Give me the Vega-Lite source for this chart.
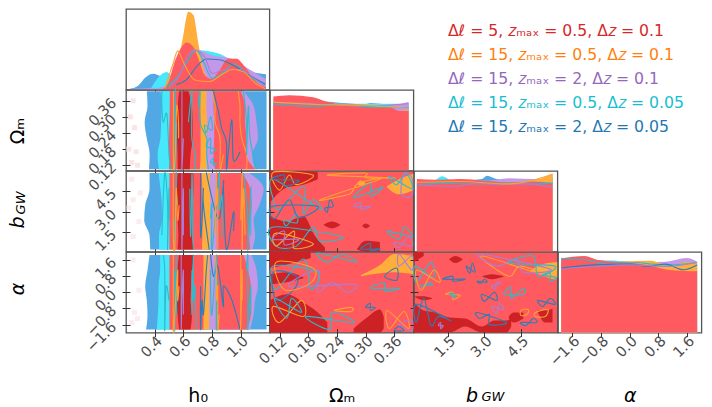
{"$schema":"https://vega.github.io/schema/vega-lite/v6.json","background":"white","padding":{"left":7,"top":8,"right":5,"bottom":0},"columns":4,"spacing":0,"bounds":"flush","align":"all","resolve":{"scale":{"color":"independent"}},
"config":{"view":{"stroke":"#555","strokeWidth":1.3},"axis":{"grid":false,"domain":false,"tickColor":"#333","tickSize":8,"offset":-4,"labelFont":"DejaVu Sans","labelFontSize":14.5,"labelColor":"#4d4d4d","labelAngle":-45,"labelOverlap":false,"labelFlush":false,"labelBound":false,"labelAlign":"right","titleFont":"DejaVu Sans","titleFontSize":19,"titleFontWeight":"normal","titleColor":"black","titleBaseline":"middle","zindex":1},"axisY":{"labelBaseline":"middle","labelPadding":8,"titleX":-112.5,"titleY":40.5},"axisX":{"labelBaseline":"top","labelPadding":-3,"titleY":67},"text":{"font":"DejaVu Sans"}},
"datasets":{
"bands":[
{"p":"o","s":"B","l":"B","y":0.395,"x":0.345,"x2":1.18},{"p":"o","s":"B","l":"B","y":0.34,"x":0.35,"x2":1.18},{"p":"o","s":"B","l":"B","y":0.28,"x":0.33,"x2":1.18},{"p":"o","s":"B","l":"B","y":0.22,"x":0.345,"x2":1.18},{"p":"o","s":"B","l":"B","y":0.16,"x":0.365,"x2":1.18},{"p":"o","s":"B","l":"B","y":0.105,"x":0.36,"x2":1.18},
{"p":"o","s":"C","l":"C","y":0.395,"x":0.44,"x2":0.9},{"p":"o","s":"C","l":"C","y":0.34,"x":0.45,"x2":0.9},{"p":"o","s":"C","l":"C","y":0.28,"x":0.445,"x2":0.9},{"p":"o","s":"C","l":"C","y":0.22,"x":0.44,"x2":0.9},{"p":"o","s":"C","l":"C","y":0.16,"x":0.42,"x2":0.9},{"p":"o","s":"C","l":"C","y":0.105,"x":0.43,"x2":0.9},
{"p":"o","s":"P","l":"P","y":0.395,"x":0.7,"x2":1.02},{"p":"o","s":"P","l":"P","y":0.34,"x":0.7,"x2":1.09},{"p":"o","s":"P","l":"P","y":0.28,"x":0.7,"x2":1.11},{"p":"o","s":"P","l":"P","y":0.22,"x":0.7,"x2":1.12},{"p":"o","s":"P","l":"P","y":0.16,"x":0.7,"x2":1.08},{"p":"o","s":"P","l":"P","y":0.105,"x":0.7,"x2":1.1},
{"p":"o","s":"O","l":"O","y":0.395,"x":0.51,"x2":0.763},{"p":"o","s":"O","l":"O","y":0.34,"x":0.51,"x2":0.76},{"p":"o","s":"O","l":"O","y":0.28,"x":0.51,"x2":0.765},{"p":"o","s":"O","l":"O","y":0.22,"x":0.51,"x2":0.765},{"p":"o","s":"O","l":"O","y":0.16,"x":0.51,"x2":0.76},{"p":"o","s":"O","l":"O","y":0.105,"x":0.51,"x2":0.763},
{"p":"o","s":"R","l":"RL","y":0.395,"x":0.505,"x2":0.717},{"p":"o","s":"R","l":"RL","y":0.34,"x":0.505,"x2":0.717},{"p":"o","s":"R","l":"RL","y":0.28,"x":0.503,"x2":0.72},{"p":"o","s":"R","l":"RL","y":0.22,"x":0.5,"x2":0.72},{"p":"o","s":"R","l":"RL","y":0.16,"x":0.5,"x2":0.72},{"p":"o","s":"R","l":"RL","y":0.105,"x":0.5,"x2":0.715},
{"p":"o","s":"R","l":"RR","y":0.395,"x":0.81,"x2":1.0},{"p":"o","s":"R","l":"RR","y":0.34,"x":0.81,"x2":1.03},{"p":"o","s":"R","l":"RR","y":0.28,"x":0.815,"x2":1.03},{"p":"o","s":"R","l":"RR","y":0.22,"x":0.815,"x2":1.04},{"p":"o","s":"R","l":"RR","y":0.16,"x":0.81,"x2":1.04},{"p":"o","s":"R","l":"RR","y":0.105,"x":0.82,"x2":1.1},
{"p":"o","s":"D","l":"D","y":0.395,"x":0.57,"x2":0.635},{"p":"o","s":"D","l":"D","y":0.34,"x":0.56,"x2":0.66},{"p":"o","s":"D","l":"D","y":0.28,"x":0.55,"x2":0.665},{"p":"o","s":"D","l":"D","y":0.22,"x":0.555,"x2":0.665},{"p":"o","s":"D","l":"D","y":0.16,"x":0.56,"x2":0.65},{"p":"o","s":"D","l":"D","y":0.105,"x":0.56,"x2":0.645},
{"p":"b","s":"B","l":"B","y":5.85,"x":0.364,"x2":1.18},{"p":"b","s":"B","l":"B","y":4.7,"x":0.364,"x2":1.18},{"p":"b","s":"B","l":"B","y":3.5,"x":0.334,"x2":1.18},{"p":"b","s":"B","l":"B","y":2.4,"x":0.327,"x2":1.18},{"p":"b","s":"B","l":"B","y":1.3,"x":0.364,"x2":1.18},{"p":"b","s":"B","l":"B","y":0.25,"x":0.369,"x2":1.18},
{"p":"b","s":"C","l":"C","y":5.85,"x":0.427,"x2":0.9},{"p":"b","s":"C","l":"C","y":4.7,"x":0.44,"x2":0.9},{"p":"b","s":"C","l":"C","y":3.5,"x":0.45,"x2":0.9},{"p":"b","s":"C","l":"C","y":2.4,"x":0.45,"x2":0.9},{"p":"b","s":"C","l":"C","y":1.3,"x":0.43,"x2":0.9},{"p":"b","s":"C","l":"C","y":0.25,"x":0.43,"x2":0.9},
{"p":"b","s":"P","l":"P","y":5.85,"x":0.7,"x2":1.06},{"p":"b","s":"P","l":"P","y":4.7,"x":0.7,"x2":1.16},{"p":"b","s":"P","l":"P","y":3.5,"x":0.7,"x2":1.13},{"p":"b","s":"P","l":"P","y":2.4,"x":0.7,"x2":1.09},{"p":"b","s":"P","l":"P","y":1.3,"x":0.7,"x2":1.1},{"p":"b","s":"P","l":"P","y":0.25,"x":0.7,"x2":1.08},
{"p":"b","s":"O","l":"O","y":5.85,"x":0.51,"x2":0.786},{"p":"b","s":"O","l":"O","y":3.5,"x":0.51,"x2":0.786},{"p":"b","s":"O","l":"O","y":0.25,"x":0.51,"x2":0.786},
{"p":"b","s":"R","l":"RL","y":5.85,"x":0.503,"x2":0.728},{"p":"b","s":"R","l":"RL","y":3.5,"x":0.503,"x2":0.735},{"p":"b","s":"R","l":"RL","y":0.25,"x":0.503,"x2":0.73},
{"p":"b","s":"R","l":"RR","y":5.85,"x":0.833,"x2":1.007},{"p":"b","s":"R","l":"RR","y":4.7,"x":0.833,"x2":1.065},{"p":"b","s":"R","l":"RR","y":3.5,"x":0.833,"x2":1.076},{"p":"b","s":"R","l":"RR","y":2.4,"x":0.833,"x2":1.065},{"p":"b","s":"R","l":"RR","y":1.3,"x":0.833,"x2":1.06},{"p":"b","s":"R","l":"RR","y":0.25,"x":0.833,"x2":1.065},
{"p":"b","s":"D","l":"D","y":5.85,"x":0.56,"x2":0.67},{"p":"b","s":"D","l":"D","y":4.7,"x":0.555,"x2":0.67},{"p":"b","s":"D","l":"D","y":3.5,"x":0.555,"x2":0.665},{"p":"b","s":"D","l":"D","y":2.4,"x":0.56,"x2":0.66},{"p":"b","s":"D","l":"D","y":1.3,"x":0.565,"x2":0.66},{"p":"b","s":"D","l":"D","y":0.25,"x":0.56,"x2":0.67},
{"p":"a","s":"B","l":"B","y":1.85,"x":0.364,"x2":1.18},{"p":"a","s":"B","l":"B","y":1.1,"x":0.35,"x2":1.18},{"p":"a","s":"B","l":"B","y":0.3,"x":0.334,"x2":1.18},{"p":"a","s":"B","l":"B","y":-0.4,"x":0.345,"x2":1.18},{"p":"a","s":"B","l":"B","y":-1.1,"x":0.35,"x2":1.18},{"p":"a","s":"B","l":"B","y":-1.85,"x":0.34,"x2":1.18},
{"p":"a","s":"C","l":"C","y":1.85,"x":0.438,"x2":0.9},{"p":"a","s":"C","l":"C","y":1.1,"x":0.438,"x2":0.9},{"p":"a","s":"C","l":"C","y":0.3,"x":0.427,"x2":0.9},{"p":"a","s":"C","l":"C","y":-0.4,"x":0.427,"x2":0.9},{"p":"a","s":"C","l":"C","y":-1.1,"x":0.422,"x2":0.9},{"p":"a","s":"C","l":"C","y":-1.85,"x":0.415,"x2":0.9},
{"p":"a","s":"P","l":"P","y":1.85,"x":0.7,"x2":1.076},{"p":"a","s":"P","l":"P","y":1.1,"x":0.7,"x2":1.11},{"p":"a","s":"P","l":"P","y":0.3,"x":0.7,"x2":1.12},{"p":"a","s":"P","l":"P","y":-0.4,"x":0.7,"x2":1.1},{"p":"a","s":"P","l":"P","y":-1.1,"x":0.7,"x2":1.09},{"p":"a","s":"P","l":"P","y":-1.85,"x":0.7,"x2":1.065},
{"p":"a","s":"O","l":"O","y":1.85,"x":0.51,"x2":0.78},{"p":"a","s":"O","l":"O","y":0,"x":0.51,"x2":0.78},{"p":"a","s":"O","l":"O","y":-1.85,"x":0.51,"x2":0.78},
{"p":"a","s":"R","l":"RL","y":1.85,"x":0.503,"x2":0.74},{"p":"a","s":"R","l":"RL","y":0,"x":0.503,"x2":0.74},{"p":"a","s":"R","l":"RL","y":-1.85,"x":0.503,"x2":0.74},
{"p":"a","s":"R","l":"RR","y":1.85,"x":0.828,"x2":1.02},{"p":"a","s":"R","l":"RR","y":1.1,"x":0.828,"x2":1.05},{"p":"a","s":"R","l":"RR","y":0.3,"x":0.828,"x2":1.07},{"p":"a","s":"R","l":"RR","y":-0.4,"x":0.828,"x2":1.07},{"p":"a","s":"R","l":"RR","y":-1.1,"x":0.828,"x2":1.07},{"p":"a","s":"R","l":"RR","y":-1.85,"x":0.828,"x2":1.04},
{"p":"a","s":"D","l":"D","y":1.85,"x":0.57,"x2":0.675},{"p":"a","s":"D","l":"D","y":1.1,"x":0.56,"x2":0.66},{"p":"a","s":"D","l":"D","y":0.3,"x":0.56,"x2":0.655},{"p":"a","s":"D","l":"D","y":-0.4,"x":0.555,"x2":0.65},{"p":"a","s":"D","l":"D","y":-1.1,"x":0.56,"x2":0.66},{"p":"a","s":"D","l":"D","y":-1.85,"x":0.57,"x2":0.65}
],
"vlines":[
{"p":"o","s":"c","l":"1","x":0.45,"y":0.395},{"p":"o","s":"c","l":"1","x":0.45,"y":0.34},{"p":"o","s":"c","l":"1","x":0.485,"y":0.31},{"p":"o","s":"c","l":"1","x":0.46,"y":0.28},{"p":"o","s":"c","l":"1","x":0.5,"y":0.16},{"p":"o","s":"c","l":"1","x":0.51,"y":0.105},
{"p":"o","s":"c","l":"2","x":0.543,"y":0.395},{"p":"o","s":"c","l":"2","x":0.543,"y":0.34},{"p":"o","s":"c","l":"2","x":0.554,"y":0.28},{"p":"o","s":"c","l":"2","x":0.531,"y":0.22},{"p":"o","s":"c","l":"2","x":0.531,"y":0.16},{"p":"o","s":"c","l":"2","x":0.543,"y":0.105},
{"p":"o","s":"p","l":"3","x":0.59,"y":0.395},{"p":"o","s":"p","l":"3","x":0.59,"y":0.34},{"p":"o","s":"p","l":"3","x":0.59,"y":0.28},{"p":"o","s":"p","l":"3","x":0.6,"y":0.22},{"p":"o","s":"p","l":"3","x":0.59,"y":0.16},{"p":"o","s":"p","l":"3","x":0.59,"y":0.105},
{"p":"o","s":"c","l":"4","x":0.659,"y":0.395},{"p":"o","s":"c","l":"4","x":0.659,"y":0.34},{"p":"o","s":"c","l":"4","x":0.635,"y":0.28},{"p":"o","s":"c","l":"4","x":0.659,"y":0.22},{"p":"o","s":"c","l":"4","x":0.682,"y":0.16},{"p":"o","s":"c","l":"4","x":0.682,"y":0.105},
{"p":"o","s":"c","l":"5","x":0.717,"y":0.395},{"p":"o","s":"c","l":"5","x":0.705,"y":0.34},{"p":"o","s":"c","l":"5","x":0.717,"y":0.28},{"p":"o","s":"c","l":"5","x":0.763,"y":0.22},{"p":"o","s":"c","l":"5","x":0.763,"y":0.16},{"p":"o","s":"c","l":"5","x":0.775,"y":0.105},
{"p":"o","s":"b","l":"6","x":0.81,"y":0.395},{"p":"o","s":"b","l":"6","x":0.844,"y":0.32},{"p":"o","s":"b","l":"6","x":0.937,"y":0.289},{"p":"o","s":"b","l":"6","x":0.867,"y":0.257},{"p":"o","s":"b","l":"6","x":0.9,"y":0.207},{"p":"o","s":"b","l":"6","x":0.995,"y":0.17},{"p":"o","s":"b","l":"6","x":0.949,"y":0.139},{"p":"o","s":"b","l":"6","x":0.902,"y":0.107},
{"p":"o","s":"o","l":"7","x":0.531,"y":0.395},{"p":"o","s":"o","l":"7","x":0.554,"y":0.34},{"p":"o","s":"o","l":"7","x":0.566,"y":0.28},{"p":"o","s":"o","l":"7","x":0.566,"y":0.22},{"p":"o","s":"o","l":"7","x":0.543,"y":0.16},{"p":"o","s":"o","l":"7","x":0.531,"y":0.105},
{"p":"o","s":"o","l":"8","x":0.798,"y":0.395},{"p":"o","s":"o","l":"8","x":0.821,"y":0.34},{"p":"o","s":"o","l":"8","x":0.821,"y":0.28},{"p":"o","s":"o","l":"8","x":0.856,"y":0.22},{"p":"o","s":"o","l":"8","x":0.879,"y":0.16},{"p":"o","s":"o","l":"8","x":0.856,"y":0.105},
{"p":"o","s":"o","l":"9","x":0.983,"y":0.395},{"p":"o","s":"o","l":"9","x":0.995,"y":0.34},{"p":"o","s":"o","l":"9","x":0.995,"y":0.28},{"p":"o","s":"o","l":"9","x":1.007,"y":0.22},{"p":"o","s":"o","l":"9","x":1.041,"y":0.16},{"p":"o","s":"o","l":"9","x":1.041,"y":0.105},
{"p":"o","s":"c","l":"10","x":1.018,"y":0.395},{"p":"o","s":"c","l":"10","x":1.053,"y":0.34},{"p":"o","s":"c","l":"10","x":1.041,"y":0.28},{"p":"o","s":"c","l":"10","x":1.065,"y":0.22},{"p":"o","s":"c","l":"10","x":1.041,"y":0.16},{"p":"o","s":"c","l":"10","x":1.111,"y":0.105},
{"p":"b","s":"c","l":"1","x":0.47,"y":5.85},{"p":"b","s":"c","l":"1","x":0.5,"y":4.7},{"p":"b","s":"c","l":"1","x":0.49,"y":3.5},{"p":"b","s":"c","l":"1","x":0.5,"y":2.4},{"p":"b","s":"c","l":"1","x":0.45,"y":1.3},{"p":"b","s":"c","l":"1","x":0.49,"y":0.25},
{"p":"b","s":"c","l":"2","x":0.55,"y":5.85},{"p":"b","s":"c","l":"2","x":0.55,"y":4.7},{"p":"b","s":"c","l":"2","x":0.56,"y":3.5},{"p":"b","s":"c","l":"2","x":0.535,"y":2.4},{"p":"b","s":"c","l":"2","x":0.54,"y":1.3},{"p":"b","s":"c","l":"2","x":0.535,"y":0.25},
{"p":"b","s":"p","l":"3","x":0.59,"y":5.85},{"p":"b","s":"p","l":"3","x":0.6,"y":4.7},{"p":"b","s":"p","l":"3","x":0.59,"y":3.5},{"p":"b","s":"p","l":"3","x":0.59,"y":2.4},{"p":"b","s":"p","l":"3","x":0.6,"y":1.3},{"p":"b","s":"p","l":"3","x":0.59,"y":0.25},
{"p":"b","s":"c","l":"4","x":0.66,"y":5.85},{"p":"b","s":"c","l":"4","x":0.645,"y":4.7},{"p":"b","s":"c","l":"4","x":0.665,"y":3.5},{"p":"b","s":"c","l":"4","x":0.655,"y":2.4},{"p":"b","s":"c","l":"4","x":0.65,"y":1.3},{"p":"b","s":"c","l":"4","x":0.67,"y":0.25},
{"p":"b","s":"b","l":"5","x":0.72,"y":5.85},{"p":"b","s":"b","l":"5","x":0.74,"y":4.7},{"p":"b","s":"b","l":"5","x":0.74,"y":3.5},{"p":"b","s":"b","l":"5","x":0.73,"y":2.4},{"p":"b","s":"b","l":"5","x":0.72,"y":1.3},{"p":"b","s":"b","l":"5","x":0.78,"y":0.25},
{"p":"b","s":"b","l":"6","x":0.76,"y":5.9},{"p":"b","s":"b","l":"6","x":0.88,"y":5.1},{"p":"b","s":"b","l":"6","x":0.88,"y":4.6},{"p":"b","s":"b","l":"6","x":0.95,"y":3.0},{"p":"b","s":"b","l":"6","x":0.844,"y":2.5},{"p":"b","s":"b","l":"6","x":0.95,"y":1.6},{"p":"b","s":"b","l":"6","x":0.9,"y":0.25},
{"p":"b","s":"c","l":"11","x":0.85,"y":5.85},{"p":"b","s":"c","l":"11","x":0.87,"y":4.2},{"p":"b","s":"c","l":"11","x":0.8,"y":3.6},{"p":"b","s":"c","l":"11","x":0.85,"y":3.2},{"p":"b","s":"c","l":"11","x":0.79,"y":2.5},{"p":"b","s":"c","l":"11","x":0.87,"y":1.1},{"p":"b","s":"c","l":"11","x":0.8,"y":0.25},
{"p":"b","s":"o","l":"7","x":0.53,"y":5.85},{"p":"b","s":"o","l":"7","x":0.55,"y":4.7},{"p":"b","s":"o","l":"7","x":0.57,"y":3.5},{"p":"b","s":"o","l":"7","x":0.56,"y":2.4},{"p":"b","s":"o","l":"7","x":0.53,"y":1.3},{"p":"b","s":"o","l":"7","x":0.54,"y":0.25},
{"p":"b","s":"o","l":"8","x":0.83,"y":5.85},{"p":"b","s":"o","l":"8","x":0.84,"y":4.7},{"p":"b","s":"o","l":"8","x":0.83,"y":3.5},{"p":"b","s":"o","l":"8","x":0.84,"y":2.4},{"p":"b","s":"o","l":"8","x":0.82,"y":1.3},{"p":"b","s":"o","l":"8","x":0.84,"y":0.25},
{"p":"b","s":"o","l":"9","x":1.01,"y":5.85},{"p":"b","s":"o","l":"9","x":1.02,"y":4.7},{"p":"b","s":"o","l":"9","x":1.01,"y":3.5},{"p":"b","s":"o","l":"9","x":1.0,"y":2.4},{"p":"b","s":"o","l":"9","x":1.03,"y":1.3},{"p":"b","s":"o","l":"9","x":1.01,"y":0.25},
{"p":"b","s":"c","l":"10","x":1.02,"y":5.85},{"p":"b","s":"c","l":"10","x":1.07,"y":4.7},{"p":"b","s":"c","l":"10","x":1.07,"y":3.5},{"p":"b","s":"c","l":"10","x":1.05,"y":2.4},{"p":"b","s":"c","l":"10","x":1.07,"y":1.3},{"p":"b","s":"c","l":"10","x":1.05,"y":0.25},
{"p":"a","s":"c","l":"1","x":0.46,"y":1.85},{"p":"a","s":"c","l":"1","x":0.47,"y":1.1},{"p":"a","s":"c","l":"1","x":0.48,"y":0.3},{"p":"a","s":"c","l":"1","x":0.5,"y":-0.4},{"p":"a","s":"c","l":"1","x":0.47,"y":-1.1},{"p":"a","s":"c","l":"1","x":0.47,"y":-1.85},
{"p":"a","s":"c","l":"2","x":0.55,"y":1.85},{"p":"a","s":"c","l":"2","x":0.54,"y":1.1},{"p":"a","s":"c","l":"2","x":0.555,"y":0.3},{"p":"a","s":"c","l":"2","x":0.54,"y":-0.4},{"p":"a","s":"c","l":"2","x":0.55,"y":-1.1},{"p":"a","s":"c","l":"2","x":0.54,"y":-1.85},
{"p":"a","s":"p","l":"3","x":0.585,"y":1.85},{"p":"a","s":"p","l":"3","x":0.6,"y":1.1},{"p":"a","s":"p","l":"3","x":0.585,"y":0.3},{"p":"a","s":"p","l":"3","x":0.59,"y":-0.4},{"p":"a","s":"p","l":"3","x":0.6,"y":-1.1},{"p":"a","s":"p","l":"3","x":0.585,"y":-1.85},
{"p":"a","s":"c","l":"4","x":0.67,"y":1.85},{"p":"a","s":"c","l":"4","x":0.66,"y":1.1},{"p":"a","s":"c","l":"4","x":0.68,"y":0.3},{"p":"a","s":"c","l":"4","x":0.67,"y":-0.4},{"p":"a","s":"c","l":"4","x":0.66,"y":-1.1},{"p":"a","s":"c","l":"4","x":0.69,"y":-1.85},
{"p":"a","s":"b","l":"5","x":0.77,"y":1.85},{"p":"a","s":"b","l":"5","x":0.76,"y":1.1},{"p":"a","s":"b","l":"5","x":0.72,"y":0.3},{"p":"a","s":"b","l":"5","x":0.73,"y":-0.4},{"p":"a","s":"b","l":"5","x":0.74,"y":-1.1},{"p":"a","s":"b","l":"5","x":0.72,"y":-1.85},
{"p":"a","s":"b","l":"6","x":0.79,"y":1.9},{"p":"a","s":"b","l":"6","x":0.84,"y":1.3},{"p":"a","s":"b","l":"6","x":0.81,"y":0.8},{"p":"a","s":"b","l":"6","x":0.88,"y":0.3},{"p":"a","s":"b","l":"6","x":0.937,"y":-0.36},{"p":"a","s":"b","l":"6","x":0.879,"y":-0.7},{"p":"a","s":"b","l":"6","x":0.995,"y":-1.85},
{"p":"a","s":"c","l":"11","x":0.83,"y":1.85},{"p":"a","s":"c","l":"11","x":0.79,"y":1.1},{"p":"a","s":"c","l":"11","x":0.84,"y":0.6},{"p":"a","s":"c","l":"11","x":0.79,"y":0.1},{"p":"a","s":"c","l":"11","x":0.83,"y":-0.5},{"p":"a","s":"c","l":"11","x":0.8,"y":-1.1},{"p":"a","s":"c","l":"11","x":0.83,"y":-1.85},
{"p":"a","s":"o","l":"7","x":0.53,"y":1.85},{"p":"a","s":"o","l":"7","x":0.56,"y":1.1},{"p":"a","s":"o","l":"7","x":0.57,"y":0.3},{"p":"a","s":"o","l":"7","x":0.56,"y":-0.4},{"p":"a","s":"o","l":"7","x":0.54,"y":-1.1},{"p":"a","s":"o","l":"7","x":0.53,"y":-1.85},
{"p":"a","s":"o","l":"8","x":0.82,"y":1.85},{"p":"a","s":"o","l":"8","x":0.83,"y":1.1},{"p":"a","s":"o","l":"8","x":0.84,"y":0.3},{"p":"a","s":"o","l":"8","x":0.83,"y":-0.4},{"p":"a","s":"o","l":"8","x":0.85,"y":-1.1},{"p":"a","s":"o","l":"8","x":0.84,"y":-1.85},
{"p":"a","s":"o","l":"9","x":1.0,"y":1.85},{"p":"a","s":"o","l":"9","x":1.01,"y":1.1},{"p":"a","s":"o","l":"9","x":1.0,"y":0.3},{"p":"a","s":"o","l":"9","x":1.01,"y":-0.4},{"p":"a","s":"o","l":"9","x":1.0,"y":-1.1},{"p":"a","s":"o","l":"9","x":1.0,"y":-1.85},
{"p":"a","s":"c","l":"10","x":1.05,"y":1.85},{"p":"a","s":"c","l":"10","x":1.04,"y":1.1},{"p":"a","s":"c","l":"10","x":1.07,"y":0.3},{"p":"a","s":"c","l":"10","x":1.05,"y":-0.4},{"p":"a","s":"c","l":"10","x":1.07,"y":-1.1},{"p":"a","s":"c","l":"10","x":1.05,"y":-1.85}
],
"pink":[
{"p":"o","x":0.25,"y":0.36},{"p":"o","x":0.23,"y":0.3},{"p":"o","x":0.26,"y":0.26},{"p":"o","x":0.22,"y":0.18},{"p":"o","x":0.27,"y":0.17},{"p":"o","x":0.24,"y":0.13},{"p":"o","x":0.28,"y":0.12},
{"p":"b","x":0.24,"y":5.4},{"p":"b","x":0.3,"y":4.4},{"p":"b","x":0.25,"y":3.9},{"p":"b","x":0.29,"y":2.3},{"p":"b","x":0.25,"y":1.2},{"p":"b","x":0.22,"y":3.3},
{"p":"a","x":0.25,"y":1.6},{"p":"a","x":0.29,"y":0.1},{"p":"a","x":0.26,"y":-1},{"p":"a","x":0.24,"y":-1.5},{"p":"a","x":0.28,"y":-1.3}
],
"dens":[
{"p":"h","s":"B","x":0.229,"y":0.01},{"p":"h","s":"B","x":0.287,"y":0.05},{"p":"h","s":"B","x":0.333,"y":0.146},{"p":"h","s":"B","x":0.391,"y":0.196},{"p":"h","s":"B","x":0.449,"y":0.16},{"p":"h","s":"B","x":0.5,"y":0.14},{"p":"h","s":"B","x":0.6,"y":0.2},{"p":"h","s":"B","x":0.8,"y":0.25},{"p":"h","s":"B","x":1.0,"y":0.24},{"p":"h","s":"B","x":1.05,"y":0.225},{"p":"h","s":"B","x":1.176,"y":0.19},
{"p":"h","s":"C","x":0.37,"y":0},{"p":"h","s":"C","x":0.4,"y":0.09},{"p":"h","s":"C","x":0.449,"y":0.19},{"p":"h","s":"C","x":0.484,"y":0.217},{"p":"h","s":"C","x":0.52,"y":0.175},{"p":"h","s":"C","x":0.565,"y":0.32},{"p":"h","s":"C","x":0.681,"y":0.49},{"p":"h","s":"C","x":0.85,"y":0.446},{"p":"h","s":"C","x":0.937,"y":0.36},{"p":"h","s":"C","x":1.053,"y":0.217},{"p":"h","s":"C","x":1.176,"y":0.07},
{"p":"h","s":"P","x":0.229,"y":0.01},{"p":"h","s":"P","x":0.4,"y":0.02},{"p":"h","s":"P","x":0.5,"y":0.06},{"p":"h","s":"P","x":0.565,"y":0.24},{"p":"h","s":"P","x":0.681,"y":0.496},{"p":"h","s":"P","x":0.797,"y":0.425},{"p":"h","s":"P","x":0.937,"y":0.383},{"p":"h","s":"P","x":1.053,"y":0.258},{"p":"h","s":"P","x":1.176,"y":0.13},
{"p":"h","s":"O","x":0.47,"y":0},{"p":"h","s":"O","x":0.542,"y":0.32},{"p":"h","s":"O","x":0.589,"y":0.57},{"p":"h","s":"O","x":0.635,"y":0.967},{"p":"h","s":"O","x":0.67,"y":0.925},{"p":"h","s":"O","x":0.705,"y":0.57},{"p":"h","s":"O","x":0.751,"y":0.196},{"p":"h","s":"O","x":0.786,"y":0.12},{"p":"h","s":"O","x":0.844,"y":0.175},{"p":"h","s":"O","x":0.937,"y":0.258},{"p":"h","s":"O","x":1.03,"y":0.217},{"p":"h","s":"O","x":1.122,"y":0.07},{"p":"h","s":"O","x":1.176,"y":0.02},
{"p":"h","s":"R","x":0.449,"y":0},{"p":"h","s":"R","x":0.496,"y":0.09},{"p":"h","s":"R","x":0.542,"y":0.36},{"p":"h","s":"R","x":0.589,"y":0.53},{"p":"h","s":"R","x":0.623,"y":0.583},{"p":"h","s":"R","x":0.67,"y":0.53},{"p":"h","s":"R","x":0.705,"y":0.383},{"p":"h","s":"R","x":0.751,"y":0.175},{"p":"h","s":"R","x":0.797,"y":0.133},{"p":"h","s":"R","x":0.844,"y":0.217},{"p":"h","s":"R","x":0.913,"y":0.383},{"p":"h","s":"R","x":0.971,"y":0.383},{"p":"h","s":"R","x":1.03,"y":0.28},{"p":"h","s":"R","x":1.099,"y":0.11},{"p":"h","s":"R","x":1.176,"y":0.03},
{"p":"m","s":"B","x":0.107,"y":0.84},{"p":"m","s":"B","x":0.17,"y":0.87},{"p":"m","s":"B","x":0.23,"y":0.85},{"p":"m","s":"B","x":0.29,"y":0.81},{"p":"m","s":"B","x":0.31,"y":0.84},{"p":"m","s":"B","x":0.37,"y":0.81},{"p":"m","s":"B","x":0.39,"y":0.83},
{"p":"m","s":"C","x":0.107,"y":0.86},{"p":"m","s":"C","x":0.18,"y":0.88},{"p":"m","s":"C","x":0.25,"y":0.83},{"p":"m","s":"C","x":0.33,"y":0.83},{"p":"m","s":"C","x":0.37,"y":0.83},{"p":"m","s":"C","x":0.39,"y":0.8},
{"p":"m","s":"P","x":0.107,"y":0.8},{"p":"m","s":"P","x":0.19,"y":0.84},{"p":"m","s":"P","x":0.25,"y":0.84},{"p":"m","s":"P","x":0.33,"y":0.8},{"p":"m","s":"P","x":0.39,"y":0.85},
{"p":"m","s":"O","x":0.107,"y":0.82},{"p":"m","s":"O","x":0.17,"y":0.86},{"p":"m","s":"O","x":0.25,"y":0.83},{"p":"m","s":"O","x":0.33,"y":0.8},{"p":"m","s":"O","x":0.37,"y":0.74},{"p":"m","s":"O","x":0.39,"y":0.75},
{"p":"m","s":"R","x":0.107,"y":0.92},{"p":"m","s":"R","x":0.14,"y":0.935},{"p":"m","s":"R","x":0.19,"y":0.91},{"p":"m","s":"R","x":0.215,"y":0.86},{"p":"m","s":"R","x":0.3,"y":0.79},{"p":"m","s":"R","x":0.35,"y":0.785},{"p":"m","s":"R","x":0.37,"y":0.74},{"p":"m","s":"R","x":0.39,"y":0.74},
{"p":"g","s":"B","x":0.22,"y":0.86},{"p":"g","s":"B","x":1.5,"y":0.87},{"p":"g","s":"B","x":2.9,"y":0.9},{"p":"g","s":"B","x":3.1,"y":0.94},{"p":"g","s":"B","x":3.5,"y":0.9},{"p":"g","s":"B","x":4.8,"y":0.87},{"p":"g","s":"B","x":5.8,"y":0.92},
{"p":"g","s":"C","x":0.22,"y":0.88},{"p":"g","s":"C","x":0.9,"y":0.88},{"p":"g","s":"C","x":1.25,"y":0.935},{"p":"g","s":"C","x":1.7,"y":0.88},{"p":"g","s":"C","x":3.5,"y":0.88},{"p":"g","s":"C","x":5.8,"y":0.9},
{"p":"g","s":"P","x":0.22,"y":0.85},{"p":"g","s":"P","x":3,"y":0.87},{"p":"g","s":"P","x":4,"y":0.91},{"p":"g","s":"P","x":5.2,"y":0.9},{"p":"g","s":"P","x":5.8,"y":0.95},
{"p":"g","s":"O","x":0.22,"y":0.82},{"p":"g","s":"O","x":2,"y":0.85},{"p":"g","s":"O","x":4,"y":0.86},{"p":"g","s":"O","x":5,"y":0.88},{"p":"g","s":"O","x":5.8,"y":0.97},
{"p":"g","s":"R","x":0.22,"y":0.9},{"p":"g","s":"R","x":1,"y":0.89},{"p":"g","s":"R","x":2,"y":0.9},{"p":"g","s":"R","x":3,"y":0.88},{"p":"g","s":"R","x":4,"y":0.86},{"p":"g","s":"R","x":5,"y":0.87},{"p":"g","s":"R","x":5.8,"y":0.85},
{"p":"c","s":"B","x":-1.91,"y":0.9},{"p":"c","s":"B","x":-0.4,"y":0.89},{"p":"c","s":"B","x":0,"y":0.88},{"p":"c","s":"B","x":1,"y":0.87},{"p":"c","s":"B","x":1.88,"y":0.83},
{"p":"c","s":"C","x":-1.91,"y":0.93},{"p":"c","s":"C","x":-1,"y":0.88},{"p":"c","s":"C","x":-0.5,"y":0.89},{"p":"c","s":"C","x":0.3,"y":0.87},{"p":"c","s":"C","x":1,"y":0.86},{"p":"c","s":"C","x":1.88,"y":0.86},
{"p":"c","s":"P","x":-1.91,"y":0.85},{"p":"c","s":"P","x":0,"y":0.87},{"p":"c","s":"P","x":1,"y":0.88},{"p":"c","s":"P","x":1.6,"y":0.925},{"p":"c","s":"P","x":1.88,"y":0.88},
{"p":"c","s":"O","x":-1.91,"y":0.78},{"p":"c","s":"O","x":-1,"y":0.85},{"p":"c","s":"O","x":0.6,"y":0.89},{"p":"c","s":"O","x":1.1,"y":0.82},{"p":"c","s":"O","x":1.6,"y":0.88},{"p":"c","s":"O","x":1.88,"y":0.87},
{"p":"c","s":"R","x":-1.91,"y":0.92},{"p":"c","s":"R","x":-1.26,"y":0.95},{"p":"c","s":"R","x":-0.89,"y":0.9},{"p":"c","s":"R","x":0.13,"y":0.86},{"p":"c","s":"R","x":0.6,"y":0.83},{"p":"c","s":"R","x":1.06,"y":0.78},{"p":"c","s":"R","x":1.88,"y":0.76}
],
"densl":[
{"p":"h","s":"c","l":"1","x":0.48,"y":0.03},{"p":"h","s":"c","l":"1","x":0.56,"y":0.16},{"p":"h","s":"c","l":"1","x":0.62,"y":0.33},{"p":"h","s":"c","l":"1","x":0.69,"y":0.49},{"p":"h","s":"c","l":"1","x":0.74,"y":0.35},{"p":"h","s":"c","l":"1","x":0.8,"y":0.14},{"p":"h","s":"c","l":"1","x":0.87,"y":0.2},{"p":"h","s":"c","l":"1","x":0.95,"y":0.32},{"p":"h","s":"c","l":"1","x":1.03,"y":0.22},{"p":"h","s":"c","l":"1","x":1.1,"y":0.12},{"p":"h","s":"c","l":"1","x":1.17,"y":0.06},
{"p":"h","s":"b","l":"2","x":0.55,"y":0.06},{"p":"h","s":"b","l":"2","x":0.62,"y":0.12},{"p":"h","s":"b","l":"2","x":0.7,"y":0.3},{"p":"h","s":"b","l":"2","x":0.76,"y":0.38},{"p":"h","s":"b","l":"2","x":0.85,"y":0.37},{"p":"h","s":"b","l":"2","x":0.95,"y":0.3},{"p":"h","s":"b","l":"2","x":1.05,"y":0.19},{"p":"h","s":"b","l":"2","x":1.17,"y":0.07},
{"p":"h","s":"p","l":"3","x":0.5,"y":0.02},{"p":"h","s":"p","l":"3","x":0.58,"y":0.2},{"p":"h","s":"p","l":"3","x":0.63,"y":0.42},{"p":"h","s":"p","l":"3","x":0.68,"y":0.49},{"p":"h","s":"p","l":"3","x":0.75,"y":0.4},{"p":"h","s":"p","l":"3","x":0.8,"y":0.2},{"p":"h","s":"p","l":"3","x":0.9,"y":0.25},{"p":"h","s":"p","l":"3","x":1.0,"y":0.25},{"p":"h","s":"p","l":"3","x":1.1,"y":0.13},{"p":"h","s":"p","l":"3","x":1.17,"y":0.04},
{"p":"h","s":"o","l":"4","x":0.47,"y":0.01},{"p":"h","s":"o","l":"4","x":0.53,"y":0.33},{"p":"h","s":"o","l":"4","x":0.56,"y":0.48},{"p":"h","s":"o","l":"4","x":0.6,"y":0.34},{"p":"h","s":"o","l":"4","x":0.68,"y":0.12},{"p":"h","s":"o","l":"4","x":0.78,"y":0.1},{"p":"h","s":"o","l":"4","x":0.88,"y":0.2},{"p":"h","s":"o","l":"4","x":0.94,"y":0.25},{"p":"h","s":"o","l":"4","x":1.02,"y":0.22},{"p":"h","s":"o","l":"4","x":1.1,"y":0.08},{"p":"h","s":"o","l":"4","x":1.17,"y":0.01},
{"p":"m","s":"p","l":"1","x":0.107,"y":0.82},{"p":"m","s":"p","l":"1","x":0.16,"y":0.84},{"p":"m","s":"p","l":"1","x":0.21,"y":0.82},{"p":"m","s":"p","l":"1","x":0.3,"y":0.8},{"p":"m","s":"p","l":"1","x":0.39,"y":0.83},
{"p":"m","s":"c","l":"2","x":0.107,"y":0.83},{"p":"m","s":"c","l":"2","x":0.17,"y":0.8},{"p":"m","s":"c","l":"2","x":0.2,"y":0.8},{"p":"m","s":"c","l":"2","x":0.25,"y":0.83},{"p":"m","s":"c","l":"2","x":0.31,"y":0.79},{"p":"m","s":"c","l":"2","x":0.39,"y":0.78},
{"p":"m","s":"o","l":"3","x":0.107,"y":0.85},{"p":"m","s":"o","l":"3","x":0.2,"y":0.82},{"p":"m","s":"o","l":"3","x":0.3,"y":0.81},{"p":"m","s":"o","l":"3","x":0.39,"y":0.77},
{"p":"g","s":"c","l":"1","x":0.22,"y":0.83},{"p":"g","s":"c","l":"1","x":1.2,"y":0.85},{"p":"g","s":"c","l":"1","x":2.5,"y":0.84},{"p":"g","s":"c","l":"1","x":4,"y":0.85},{"p":"g","s":"c","l":"1","x":5,"y":0.84},{"p":"g","s":"c","l":"1","x":5.8,"y":0.85},
{"p":"g","s":"p","l":"2","x":0.22,"y":0.83},{"p":"g","s":"p","l":"2","x":1.8,"y":0.81},{"p":"g","s":"p","l":"2","x":2.7,"y":0.85},{"p":"g","s":"p","l":"2","x":3.5,"y":0.83},{"p":"g","s":"p","l":"2","x":4.6,"y":0.84},{"p":"g","s":"p","l":"2","x":5.8,"y":0.8},
{"p":"g","s":"o","l":"3","x":0.22,"y":0.86},{"p":"g","s":"o","l":"3","x":2,"y":0.87},{"p":"g","s":"o","l":"3","x":4,"y":0.84},{"p":"g","s":"o","l":"3","x":5.8,"y":0.96},
{"p":"c","s":"c","l":"1","x":-1.91,"y":0.92},{"p":"c","s":"c","l":"1","x":-1.2,"y":0.9},{"p":"c","s":"c","l":"1","x":-0.6,"y":0.85},{"p":"c","s":"c","l":"1","x":0.2,"y":0.87},{"p":"c","s":"c","l":"1","x":0.6,"y":0.85},{"p":"c","s":"c","l":"1","x":1.1,"y":0.84},{"p":"c","s":"c","l":"1","x":1.88,"y":0.87},
{"p":"c","s":"b","l":"2","x":-1.91,"y":0.8},{"p":"c","s":"b","l":"2","x":-1,"y":0.84},{"p":"c","s":"b","l":"2","x":0,"y":0.85},{"p":"c","s":"b","l":"2","x":0.5,"y":0.82},{"p":"c","s":"b","l":"2","x":1,"y":0.85},{"p":"c","s":"b","l":"2","x":1.5,"y":0.78},{"p":"c","s":"b","l":"2","x":1.88,"y":0.84},
{"p":"c","s":"p","l":"3","x":-1.91,"y":0.79},{"p":"c","s":"p","l":"3","x":-1,"y":0.82},{"p":"c","s":"p","l":"3","x":0,"y":0.84},{"p":"c","s":"p","l":"3","x":1,"y":0.82},{"p":"c","s":"p","l":"3","x":1.88,"y":0.87}
],
"blobs":[
{"p":"mb","s":"O","l":"a","x":0.345,"y":4.9,"y2":4.8},{"p":"mb","s":"O","l":"a","x":0.37,"y":5.4,"y2":4.3},{"p":"mb","s":"O","l":"a","x":0.4,"y":5.8,"y2":4.6},
{"p":"mb","s":"O","l":"b","x":0.282,"y":5.1,"y2":5.1},{"p":"mb","s":"O","l":"b","x":0.29,"y":5.3,"y2":4.9},{"p":"mb","s":"O","l":"b","x":0.3,"y":5.1,"y2":5.1},
{"p":"mb","s":"D","l":"c","x":0.1,"y":6,"y2":3.7},{"p":"mb","s":"D","l":"c","x":0.135,"y":6,"y2":4.8},{"p":"mb","s":"D","l":"c","x":0.17,"y":6,"y2":5.0},{"p":"mb","s":"D","l":"c","x":0.2,"y":5.9,"y2":5.4},
{"p":"mb","s":"D","l":"d","x":0.1,"y":2.68,"y2":0.1},{"p":"mb","s":"D","l":"d","x":0.135,"y":2.3,"y2":0.1},{"p":"mb","s":"D","l":"d","x":0.17,"y":2.68,"y2":0.1},{"p":"mb","s":"D","l":"d","x":0.195,"y":1.2,"y2":0.1},{"p":"mb","s":"D","l":"d","x":0.215,"y":0.4,"y2":0.1},
{"p":"mb","s":"D","l":"e","x":0.212,"y":2.07,"y2":2.05},{"p":"mb","s":"D","l":"e","x":0.23,"y":2.3,"y2":1.8},{"p":"mb","s":"D","l":"e","x":0.247,"y":2.07,"y2":2.05},
{"p":"mb","s":"D","l":"f","x":0.293,"y":2.0,"y2":1.97},{"p":"mb","s":"D","l":"f","x":0.3,"y":2.15,"y2":1.8},{"p":"mb","s":"D","l":"f","x":0.309,"y":2.0,"y2":1.95},
{"p":"mb","s":"D","l":"g","x":0.282,"y":0.3,"y2":0.25},{"p":"mb","s":"D","l":"g","x":0.3,"y":0.9,"y2":0.1},{"p":"mb","s":"D","l":"g","x":0.33,"y":0.8,"y2":0.1},
{"p":"ma","s":"O","l":"a","x":0.29,"y":0.85,"y2":0.8},{"p":"ma","s":"O","l":"a","x":0.33,"y":1.35,"y2":0.95},{"p":"ma","s":"O","l":"a","x":0.36,"y":1.9,"y2":1.0},{"p":"ma","s":"O","l":"a","x":0.4,"y":1.8,"y2":0.9},
{"p":"ma","s":"D","l":"c","x":0.1,"y":2,"y2":1.2},{"p":"ma","s":"D","l":"c","x":0.14,"y":2,"y2":1.4},{"p":"ma","s":"D","l":"c","x":0.185,"y":2,"y2":1.7},
{"p":"ma","s":"D","l":"d","x":0.1,"y":-0.4,"y2":-2},{"p":"ma","s":"D","l":"d","x":0.135,"y":-0.1,"y2":-2},{"p":"ma","s":"D","l":"d","x":0.17,"y":-0.5,"y2":-2},{"p":"ma","s":"D","l":"d","x":0.2,"y":-1,"y2":-2},{"p":"ma","s":"D","l":"d","x":0.22,"y":-1.5,"y2":-2},
{"p":"ma","s":"D","l":"e","x":0.1,"y":0.9,"y2":0.4},{"p":"ma","s":"D","l":"e","x":0.135,"y":1,"y2":0.5},{"p":"ma","s":"D","l":"e","x":0.17,"y":0.75,"y2":0.7},
{"p":"ma","s":"D","l":"f","x":0.275,"y":-1.8,"y2":-2},{"p":"ma","s":"D","l":"f","x":0.3,"y":-1.3,"y2":-2},{"p":"ma","s":"D","l":"f","x":0.33,"y":-0.85,"y2":-2},{"p":"ma","s":"D","l":"f","x":0.338,"y":-1.2,"y2":-1.8},
{"p":"ga","s":"O","l":"a","x":4.9,"y":1.1,"y2":1.05},{"p":"ga","s":"O","l":"a","x":5.4,"y":1.4,"y2":0.9},{"p":"ga","s":"O","l":"a","x":6,"y":1.5,"y2":0.7},
{"p":"ga","s":"D","l":"c","x":0.1,"y":-0.5,"y2":-2},{"p":"ga","s":"D","l":"c","x":0.5,"y":-0.9,"y2":-2},{"p":"ga","s":"D","l":"c","x":1,"y":-1,"y2":-2},{"p":"ga","s":"D","l":"c","x":1.56,"y":-1.25,"y2":-2},{"p":"ga","s":"D","l":"c","x":2.2,"y":-1.3,"y2":-1.7},{"p":"ga","s":"D","l":"c","x":2.9,"y":-1.7,"y2":-2},{"p":"ga","s":"D","l":"c","x":3.4,"y":-1.4,"y2":-2},{"p":"ga","s":"D","l":"c","x":3.9,"y":-1.4,"y2":-2},{"p":"ga","s":"D","l":"c","x":4.1,"y":-1.3,"y2":-1.7},
{"p":"ga","s":"D","l":"d","x":4.0,"y":-1.2,"y2":-1.3},{"p":"ga","s":"D","l":"d","x":4.2,"y":-1.0,"y2":-1.5},{"p":"ga","s":"D","l":"d","x":4.6,"y":-1.0,"y2":-1.3},
{"p":"ga","s":"D","l":"e","x":1.55,"y":1.65,"y2":1.63},{"p":"ga","s":"D","l":"e","x":1.8,"y":1.8,"y2":1.45},{"p":"ga","s":"D","l":"e","x":2.1,"y":1.65,"y2":1.63},
{"p":"ga","s":"D","l":"f","x":2.9,"y":0.8,"y2":0.78},{"p":"ga","s":"D","l":"f","x":3.3,"y":0.9,"y2":0.65},{"p":"ga","s":"D","l":"f","x":3.8,"y":0.8,"y2":0.78},
{"p":"ga","s":"D","l":"g","x":5.2,"y":-0.9,"y2":-1.0},{"p":"ga","s":"D","l":"g","x":5.5,"y":-0.9,"y2":-1.5},{"p":"ga","s":"D","l":"g","x":5.8,"y":-0.8,"y2":-1.5},
{"p":"ga","s":"D","l":"h","x":0.15,"y":-0.2,"y2":-0.25},{"p":"ga","s":"D","l":"h","x":0.5,"y":-0.2,"y2":-0.4},{"p":"ga","s":"D","l":"h","x":0.85,"y":-0.3,"y2":-0.32},
{"p":"ga","s":"D","l":"i","x":0.1,"y":2,"y2":1.5},{"p":"ga","s":"D","l":"i","x":0.5,"y":2,"y2":1.8}
],
"loops":[
{"p":"mb","s":"c","l":"1","x":0.275,"y":4.03},{"p":"mb","s":"c","l":"1","x":0.31,"y":5.14},{"p":"mb","s":"c","l":"1","x":0.335,"y":4.8},{"p":"mb","s":"c","l":"1","x":0.31,"y":4.16},
{"p":"mb","s":"p","l":"2","x":0.275,"y":3.4},{"p":"mb","s":"p","l":"2","x":0.29,"y":3.7},{"p":"mb","s":"p","l":"2","x":0.31,"y":3.4},{"p":"mb","s":"p","l":"2","x":0.29,"y":3.2},
{"p":"mb","s":"c","l":"3","x":0.13,"y":2.4},{"p":"mb","s":"c","l":"3","x":0.155,"y":2.9},{"p":"mb","s":"c","l":"3","x":0.156,"y":2.2},{"p":"mb","s":"c","l":"3","x":0.135,"y":2.0},
{"p":"mb","s":"b","l":"4","x":0.215,"y":3.3},{"p":"mb","s":"b","l":"4","x":0.225,"y":3.9},{"p":"mb","s":"b","l":"4","x":0.232,"y":3.4},{"p":"mb","s":"b","l":"4","x":0.22,"y":3.0},
{"p":"mb","s":"c","l":"5","x":0.107,"y":5.4},{"p":"mb","s":"c","l":"5","x":0.17,"y":4.9},{"p":"mb","s":"c","l":"5","x":0.19,"y":3.9},{"p":"mb","s":"c","l":"5","x":0.205,"y":3.2},{"p":"mb","s":"c","l":"5","x":0.17,"y":2.9},{"p":"mb","s":"c","l":"5","x":0.12,"y":3.2},{"p":"mb","s":"c","l":"5","x":0.107,"y":3.9},
{"p":"mb","s":"b","l":"6","x":0.105,"y":3.4},{"p":"mb","s":"b","l":"6","x":0.14,"y":3.9},{"p":"mb","s":"b","l":"6","x":0.2,"y":3.4},{"p":"mb","s":"b","l":"6","x":0.16,"y":2.6},{"p":"mb","s":"b","l":"6","x":0.11,"y":2.5},
{"p":"mb","s":"c","l":"7","x":0.107,"y":1.9},{"p":"mb","s":"c","l":"7","x":0.19,"y":1.9},{"p":"mb","s":"c","l":"7","x":0.25,"y":1.2},{"p":"mb","s":"c","l":"7","x":0.205,"y":0.85},{"p":"mb","s":"c","l":"7","x":0.155,"y":0.5},{"p":"mb","s":"c","l":"7","x":0.113,"y":0.5},
{"p":"mb","s":"o","l":"8","x":0.22,"y":5.7},{"p":"mb","s":"o","l":"8","x":0.3,"y":5.85},{"p":"mb","s":"o","l":"8","x":0.36,"y":5.5},{"p":"mb","s":"o","l":"8","x":0.3,"y":5.5},
{"p":"mb","s":"o","l":"9","x":0.205,"y":3.9},{"p":"mb","s":"o","l":"9","x":0.255,"y":4.2},{"p":"mb","s":"o","l":"9","x":0.285,"y":5.1},{"p":"mb","s":"o","l":"9","x":0.33,"y":5.4},{"p":"mb","s":"o","l":"9","x":0.27,"y":4.4},
{"p":"mb","s":"o","l":"10","x":0.107,"y":5.9},{"p":"mb","s":"o","l":"10","x":0.14,"y":5.7},{"p":"mb","s":"o","l":"10","x":0.19,"y":5.7},{"p":"mb","s":"o","l":"10","x":0.155,"y":5},{"p":"mb","s":"o","l":"10","x":0.12,"y":4.6},
{"p":"mb","s":"o","l":"11","x":0.113,"y":1.45},{"p":"mb","s":"o","l":"11","x":0.15,"y":1.6},{"p":"mb","s":"o","l":"11","x":0.19,"y":0.7},{"p":"mb","s":"o","l":"11","x":0.15,"y":0.35},{"p":"mb","s":"o","l":"11","x":0.113,"y":0.5},
{"p":"mb","s":"p","l":"12","x":0.105,"y":1.0},{"p":"mb","s":"p","l":"12","x":0.13,"y":1.6},{"p":"mb","s":"p","l":"12","x":0.16,"y":1.0},{"p":"mb","s":"p","l":"12","x":0.13,"y":0.6},
{"p":"mb","s":"p","l":"13","x":0.38,"y":5.8},{"p":"mb","s":"p","l":"13","x":0.397,"y":5.5},{"p":"mb","s":"p","l":"13","x":0.397,"y":4.2},{"p":"mb","s":"p","l":"13","x":0.375,"y":4.3},
{"p":"mb","s":"c","l":"14","x":0.345,"y":1.6},{"p":"mb","s":"c","l":"14","x":0.38,"y":1.9},{"p":"mb","s":"c","l":"14","x":0.397,"y":1.2},{"p":"mb","s":"c","l":"14","x":0.37,"y":1.0},
{"p":"mb","s":"p","l":"15","x":0.36,"y":0.8},{"p":"mb","s":"p","l":"15","x":0.39,"y":1.2},{"p":"mb","s":"p","l":"15","x":0.397,"y":0.5},{"p":"mb","s":"p","l":"15","x":0.37,"y":0.4},
{"p":"mb","s":"c","l":"16","x":0.35,"y":5.6},{"p":"mb","s":"c","l":"16","x":0.385,"y":5.8},{"p":"mb","s":"c","l":"16","x":0.397,"y":4.7},{"p":"mb","s":"c","l":"16","x":0.365,"y":5},
{"p":"mb","s":"b","l":"17","x":0.105,"y":5.4},{"p":"mb","s":"b","l":"17","x":0.13,"y":5.7},{"p":"mb","s":"b","l":"17","x":0.16,"y":5.3},{"p":"mb","s":"b","l":"17","x":0.13,"y":4.9},
{"p":"mb","s":"b","l":"18","x":0.29,"y":0.3},{"p":"mb","s":"b","l":"18","x":0.31,"y":0.7},{"p":"mb","s":"b","l":"18","x":0.33,"y":0.3},{"p":"mb","s":"b","l":"18","x":0.31,"y":0.2},
{"p":"ma","s":"c","l":"1","x":0.31,"y":0.2},{"p":"ma","s":"c","l":"1","x":0.34,"y":0.47},{"p":"ma","s":"c","l":"1","x":0.37,"y":0.2},{"p":"ma","s":"c","l":"1","x":0.34,"y":0.05},
{"p":"ma","s":"b","l":"2","x":0.34,"y":0.8},{"p":"ma","s":"b","l":"2","x":0.365,"y":1.2},{"p":"ma","s":"b","l":"2","x":0.365,"y":0.6},
{"p":"ma","s":"b","l":"3","x":0.3,"y":-0.75},{"p":"ma","s":"b","l":"3","x":0.31,"y":-0.55},{"p":"ma","s":"b","l":"3","x":0.32,"y":-0.75},{"p":"ma","s":"b","l":"3","x":0.31,"y":-0.9},
{"p":"ma","s":"o","l":"4","x":0.235,"y":-0.9},{"p":"ma","s":"o","l":"4","x":0.27,"y":-0.75},{"p":"ma","s":"o","l":"4","x":0.27,"y":-0.95},
{"p":"ma","s":"p","l":"5","x":0.2,"y":1.1},{"p":"ma","s":"p","l":"5","x":0.23,"y":0.5},{"p":"ma","s":"p","l":"5","x":0.275,"y":0.4},{"p":"ma","s":"p","l":"5","x":0.26,"y":0},{"p":"ma","s":"p","l":"5","x":0.2,"y":0},{"p":"ma","s":"p","l":"5","x":0.14,"y":0.3},
{"p":"ma","s":"c","l":"6","x":0.107,"y":1.3},{"p":"ma","s":"c","l":"6","x":0.17,"y":1.65},{"p":"ma","s":"c","l":"6","x":0.2,"y":1},{"p":"ma","s":"c","l":"6","x":0.185,"y":0.15},{"p":"ma","s":"c","l":"6","x":0.113,"y":0.15},
{"p":"ma","s":"b","l":"7","x":0.107,"y":1},{"p":"ma","s":"b","l":"7","x":0.155,"y":0.8},{"p":"ma","s":"b","l":"7","x":0.15,"y":0.13},{"p":"ma","s":"b","l":"7","x":0.113,"y":-0.37},
{"p":"ma","s":"o","l":"8","x":0.113,"y":1.5},{"p":"ma","s":"o","l":"8","x":0.19,"y":1.2},{"p":"ma","s":"o","l":"8","x":0.185,"y":0.47},{"p":"ma","s":"o","l":"8","x":0.13,"y":0.13},
{"p":"ma","s":"o","l":"9","x":0.107,"y":-0.7},{"p":"ma","s":"o","l":"9","x":0.165,"y":-0.4},{"p":"ma","s":"o","l":"9","x":0.17,"y":-1.2},{"p":"ma","s":"o","l":"9","x":0.12,"y":-1.5},
{"p":"ma","s":"c","l":"10","x":0.11,"y":-0.3},{"p":"ma","s":"c","l":"10","x":0.145,"y":-0.3},{"p":"ma","s":"c","l":"10","x":0.165,"y":-1},{"p":"ma","s":"c","l":"10","x":0.135,"y":-1.3},
{"p":"ma","s":"c","l":"11","x":0.175,"y":-1.2},{"p":"ma","s":"c","l":"11","x":0.23,"y":-1},{"p":"ma","s":"c","l":"11","x":0.275,"y":-1.5},{"p":"ma","s":"c","l":"11","x":0.225,"y":-1.85},
{"p":"ma","s":"o","l":"12","x":0.345,"y":-0.9},{"p":"ma","s":"o","l":"12","x":0.38,"y":-0.95},{"p":"ma","s":"o","l":"12","x":0.39,"y":-1.8},{"p":"ma","s":"o","l":"12","x":0.35,"y":-1.8},
{"p":"ma","s":"p","l":"13","x":0.37,"y":-1.6},{"p":"ma","s":"p","l":"13","x":0.397,"y":-1.4},{"p":"ma","s":"p","l":"13","x":0.397,"y":-1.9},
{"p":"ma","s":"b","l":"14","x":0.36,"y":-1.9},{"p":"ma","s":"b","l":"14","x":0.37,"y":-1.7},{"p":"ma","s":"b","l":"14","x":0.38,"y":-1.9},
{"p":"ma","s":"p","l":"15","x":0.37,"y":1.9},{"p":"ma","s":"p","l":"15","x":0.397,"y":1.8},{"p":"ma","s":"p","l":"15","x":0.397,"y":1.1},{"p":"ma","s":"p","l":"15","x":0.37,"y":1.3},
{"p":"ma","s":"c","l":"16","x":0.2,"y":1.95},{"p":"ma","s":"c","l":"16","x":0.25,"y":1.9},{"p":"ma","s":"c","l":"16","x":0.28,"y":1.5},{"p":"ma","s":"c","l":"16","x":0.22,"y":1.5},
{"p":"ga","s":"b","l":"1","x":2.25,"y":1.3},{"p":"ga","s":"b","l":"1","x":2.5,"y":1.45},{"p":"ga","s":"b","l":"1","x":2.6,"y":1},{"p":"ga","s":"b","l":"1","x":2.4,"y":0.95},
{"p":"ga","s":"b","l":"2","x":1.3,"y":0.65},{"p":"ga","s":"b","l":"2","x":1.7,"y":0.8},{"p":"ga","s":"b","l":"2","x":2.2,"y":0.65},{"p":"ga","s":"b","l":"2","x":1.7,"y":0.55},
{"p":"ga","s":"b","l":"3","x":2.7,"y":0.55},{"p":"ga","s":"b","l":"3","x":3,"y":0.65},{"p":"ga","s":"b","l":"3","x":3.1,"y":0.5},{"p":"ga","s":"b","l":"3","x":2.85,"y":0.45},
{"p":"ga","s":"p","l":"4","x":3.3,"y":0.3},{"p":"ga","s":"p","l":"4","x":3.5,"y":0.5},{"p":"ga","s":"p","l":"4","x":3.65,"y":0.45},{"p":"ga","s":"p","l":"4","x":3.45,"y":0.2},
{"p":"ga","s":"c","l":"5","x":3.8,"y":-0.1},{"p":"ga","s":"c","l":"5","x":4.1,"y":0.25},{"p":"ga","s":"c","l":"5","x":4.6,"y":0.2},{"p":"ga","s":"c","l":"5","x":4.6,"y":-0.1},{"p":"ga","s":"c","l":"5","x":4.1,"y":-0.3},
{"p":"ga","s":"o","l":"6","x":1.4,"y":-0.1},{"p":"ga","s":"o","l":"6","x":1.7,"y":0},{"p":"ga","s":"o","l":"6","x":2,"y":-0.15},{"p":"ga","s":"o","l":"6","x":1.7,"y":-0.35},
{"p":"ga","s":"c","l":"7","x":1.55,"y":-0.1},{"p":"ga","s":"c","l":"7","x":1.7,"y":-0.03},{"p":"ga","s":"c","l":"7","x":1.85,"y":-0.15},{"p":"ga","s":"c","l":"7","x":1.7,"y":-0.25},
{"p":"ga","s":"b","l":"8","x":2.9,"y":-0.1},{"p":"ga","s":"b","l":"8","x":3.4,"y":0},{"p":"ga","s":"b","l":"8","x":3.5,"y":-0.4},{"p":"ga","s":"b","l":"8","x":3,"y":-0.45},
{"p":"ga","s":"p","l":"9","x":3.3,"y":-0.7},{"p":"ga","s":"p","l":"9","x":3.6,"y":-0.55},{"p":"ga","s":"p","l":"9","x":3.8,"y":-0.85},{"p":"ga","s":"p","l":"9","x":3.5,"y":-1.05},
{"p":"ga","s":"b","l":"10","x":2.7,"y":-1},{"p":"ga","s":"b","l":"10","x":3.2,"y":-1.1},{"p":"ga","s":"b","l":"10","x":3.9,"y":-1.5},{"p":"ga","s":"b","l":"10","x":3.2,"y":-1.6},{"p":"ga","s":"b","l":"10","x":2.8,"y":-1.3},
{"p":"ga","s":"b","l":"11","x":4.5,"y":-1.5},{"p":"ga","s":"b","l":"11","x":5,"y":-1.3},{"p":"ga","s":"b","l":"11","x":5.15,"y":-1.5},{"p":"ga","s":"b","l":"11","x":4.7,"y":-1.65},
{"p":"ga","s":"b","l":"12","x":5.2,"y":-0.4},{"p":"ga","s":"b","l":"12","x":5.7,"y":-0.3},{"p":"ga","s":"b","l":"12","x":5.9,"y":-0.6},{"p":"ga","s":"b","l":"12","x":5.4,"y":-0.7},
{"p":"ga","s":"o","l":"13","x":5.1,"y":-1},{"p":"ga","s":"o","l":"13","x":5.6,"y":-0.85},{"p":"ga","s":"o","l":"13","x":5.5,"y":-1.2},{"p":"ga","s":"o","l":"13","x":5.1,"y":-1.2},
{"p":"ga","s":"c","l":"14","x":0.15,"y":1.3},{"p":"ga","s":"c","l":"14","x":0.8,"y":1.5},{"p":"ga","s":"c","l":"14","x":0.9,"y":0.7},{"p":"ga","s":"c","l":"14","x":0.2,"y":0.5},
{"p":"ga","s":"c","l":"15","x":0.4,"y":0.35},{"p":"ga","s":"c","l":"15","x":0.7,"y":0.5},{"p":"ga","s":"c","l":"15","x":0.85,"y":0.35},{"p":"ga","s":"c","l":"15","x":0.5,"y":0.25},
{"p":"ga","s":"o","l":"16","x":0.2,"y":1.1},{"p":"ga","s":"o","l":"16","x":0.9,"y":1.1},{"p":"ga","s":"o","l":"16","x":1.15,"y":0.5},{"p":"ga","s":"o","l":"16","x":0.4,"y":0.1},
{"p":"ga","s":"b","l":"17","x":0.2,"y":-0.6},{"p":"ga","s":"b","l":"17","x":0.5,"y":-0.3},{"p":"ga","s":"b","l":"17","x":1.1,"y":-1.2},{"p":"ga","s":"b","l":"17","x":1.6,"y":-1.4},{"p":"ga","s":"b","l":"17","x":0.8,"y":-1.65},{"p":"ga","s":"b","l":"17","x":0.2,"y":-1.5},
{"p":"ga","s":"p","l":"18","x":1.1,"y":-1.65},{"p":"ga","s":"p","l":"18","x":1.2,"y":-1.5},{"p":"ga","s":"p","l":"18","x":1.3,"y":-1.65},{"p":"ga","s":"p","l":"18","x":1.2,"y":-1.8},
{"p":"ga","s":"o","l":"19","x":2.9,"y":1.8},{"p":"ga","s":"o","l":"19","x":4.5,"y":1.3},{"p":"ga","s":"o","l":"19","x":5.9,"y":0.65},{"p":"ga","s":"o","l":"19","x":4,"y":0.8},
{"p":"ga","s":"p","l":"20","x":2.8,"y":1.9},{"p":"ga","s":"p","l":"20","x":3.5,"y":1.3},{"p":"ga","s":"p","l":"20","x":4.6,"y":1},{"p":"ga","s":"p","l":"20","x":5.7,"y":1.15},{"p":"ga","s":"p","l":"20","x":4.3,"y":1.65},
{"p":"ga","s":"c","l":"21","x":4,"y":1.45},{"p":"ga","s":"c","l":"21","x":5,"y":1.8},{"p":"ga","s":"c","l":"21","x":5.9,"y":1.3},{"p":"ga","s":"c","l":"21","x":5.2,"y":0.8},
{"p":"ga","s":"c","l":"22","x":5.4,"y":0.85},{"p":"ga","s":"c","l":"22","x":5.7,"y":0.95},{"p":"ga","s":"c","l":"22","x":5.95,"y":0.75},{"p":"ga","s":"c","l":"22","x":5.7,"y":0.55},
{"p":"ga","s":"o","l":"23","x":4.5,"y":-0.9},{"p":"ga","s":"o","l":"23","x":4.8,"y":-0.85},{"p":"ga","s":"o","l":"23","x":4.75,"y":-1.1},{"p":"ga","s":"o","l":"23","x":4.5,"y":-1.15},
{"p":"o","s":"c","l":"24","x":0.75,"y":0.27},{"p":"o","s":"c","l":"24","x":0.79,"y":0.3},{"p":"o","s":"c","l":"24","x":0.8,"y":0.25},{"p":"o","s":"c","l":"24","x":0.76,"y":0.24},
{"p":"o","s":"c","l":"25","x":0.76,"y":0.19},{"p":"o","s":"c","l":"25","x":0.79,"y":0.22},{"p":"o","s":"c","l":"25","x":0.82,"y":0.18},{"p":"o","s":"c","l":"25","x":0.79,"y":0.165},
{"p":"o","s":"c","l":"26","x":0.79,"y":0.13},{"p":"o","s":"c","l":"26","x":0.81,"y":0.145},{"p":"o","s":"c","l":"26","x":0.83,"y":0.125},{"p":"o","s":"c","l":"26","x":0.81,"y":0.12}
],
"legend":[
{"r":1,"x":0.237,"s":"r","t":"Δℓ = 5, 𝑧ₘₐₓ = 0.5, Δ𝑧 = 0.1"},{"r":2,"x":0.237,"s":"o","t":"Δℓ = 15, 𝑧ₘₐₓ = 0.5, Δ𝑧 = 0.1"},{"r":3,"x":0.237,"s":"p","t":"Δℓ = 15, 𝑧ₘₐₓ = 2, Δ𝑧 = 0.1"},{"r":4,"x":0.237,"s":"c","t":"Δℓ = 15, 𝑧ₘₐₓ = 0.5, Δ𝑧 = 0.05"},{"r":5,"x":0.237,"s":"b","t":"Δℓ = 15, 𝑧ₘₐₓ = 2, Δ𝑧 = 0.05"}
]
},
"concat":[
{"width":143.4,"height":80.6,"encoding":{"x":{"field":"x","type":"quantitative","scale":{"domain":[0.2,1.2]},"axis":{"values":[0.4,0.6,0.8,1.0],"labels":false,"title":null}},"y":{"field":"y","type":"quantitative","stack":null,"scale":{"domain":[0,1]},"axis":null},"color":{"field":"s","type":"nominal","legend":null,"scale":{"domain":["B","C","P","O","R","D","c","b","o","p"],"range":["#52a8e4","#46e9fb","#c498e8","#ffae3c","#ff5a5f","#cc2226","#2cbccc","#2a7fb8","#ffa030","#a97fd6"]}}},"layer":[{"data":{"name":"dens"},"transform":[{"filter":"datum.p=='h'"}],"mark":{"type":"area","interpolate":"monotone"},"encoding":{"detail":{"field":"s"}}},{"data":{"name":"densl"},"transform":[{"filter":"datum.p=='h'"}],"mark":{"type":"line","interpolate":"monotone","strokeWidth":1.1},"encoding":{"detail":{"field":"l"},"order":null}}]},
{"width":143.4,"height":80.6,"view":{"stroke":null},"data":{"values":[{}]},"mark":{"type":"text","text":""},"encoding":{}},
{"width":143.4,"height":80.6,"view":{"stroke":null},"data":{"name":"legend"},"mark":{"type":"text","align":"left","baseline":"middle","fontSize":15.7},"encoding":{"x":{"field":"x","type":"quantitative","scale":{"domain":[0,1]},"axis":null},"y":{"field":"r","type":"quantitative","scale":{"domain":[3.44,0.11]},"axis":null},"text":{"field":"t"},"color":{"field":"s","type":"nominal","legend":null,"scale":{"domain":["r","o","p","c","b"],"range":["#d62728","#ff7f0e","#9467bd","#17becf","#1f77b4"]}}}},
{"width":143.4,"height":80.6,"view":{"stroke":null},"data":{"values":[{}]},"mark":{"type":"text","text":""},"encoding":{}},

{"width":143.4,"height":80.6,"encoding":{"x":{"field":"x","type":"quantitative","scale":{"domain":[0.2,1.2]},"axis":{"values":[0.4,0.6,0.8,1.0],"labels":false,"title":null}},"y":{"field":"y","type":"quantitative","scale":{"domain":[0.1,0.4]},"axis":{"values":[0.12,0.18,0.24,0.3,0.36],"format":".2f","title":"Ωₘ"}},"color":{"field":"s","type":"nominal","legend":null,"scale":{"domain":["B","C","P","O","R","D","c","b","o","p"],"range":["#52a8e4","#46e9fb","#c498e8","#ffae3c","#ff5a5f","#cc2226","#2cbccc","#2a7fb8","#ffa030","#a97fd6"]}}},"layer":[{"data":{"name":"pink"},"transform":[{"filter":"datum.p=='o'"}],"mark":{"type":"square","size":25,"opacity":1},"encoding":{"color":{"value":"#fbe4e6"}}},{"data":{"name":"bands"},"transform":[{"filter":"datum.p=='o'"}],"mark":{"type":"area","orient":"horizontal","interpolate":"monotone"},"encoding":{"x2":{"field":"x2"},"detail":{"field":"l"}}},{"data":{"name":"vlines"},"transform":[{"filter":"datum.p=='o'"}],"mark":{"type":"line","interpolate":"cardinal","strokeWidth":1.1},"encoding":{"detail":{"field":"l"},"order":null}},{"data":{"name":"loops"},"transform":[{"filter":"datum.p=='o'"}],"mark":{"type":"line","interpolate":"cardinal-closed","strokeWidth":1.1},"encoding":{"detail":{"field":"l"},"order":null}}]},
{"width":143.4,"height":80.6,"encoding":{"x":{"field":"x","type":"quantitative","scale":{"domain":[0.1,0.4]},"axis":{"values":[0.12,0.18,0.24,0.3,0.36],"labels":false,"title":null}},"y":{"field":"y","type":"quantitative","stack":null,"scale":{"domain":[0,1]},"axis":null},"color":{"field":"s","type":"nominal","legend":null,"scale":{"domain":["B","C","P","O","R","D","c","b","o","p"],"range":["#52a8e4","#46e9fb","#c498e8","#ffae3c","#ff5a5f","#cc2226","#2cbccc","#2a7fb8","#ffa030","#a97fd6"]}}},"layer":[{"data":{"name":"dens"},"transform":[{"filter":"datum.p=='m'"}],"mark":{"type":"area","interpolate":"monotone"},"encoding":{"detail":{"field":"s"}}},{"data":{"name":"densl"},"transform":[{"filter":"datum.p=='m'"}],"mark":{"type":"line","interpolate":"monotone","strokeWidth":1.1},"encoding":{"detail":{"field":"l"},"order":null}}]},
{"width":143.4,"height":80.6,"view":{"stroke":null},"data":{"values":[{}]},"mark":{"type":"text","text":""},"encoding":{}},
{"width":143.4,"height":80.6,"view":{"stroke":null},"data":{"values":[{}]},"mark":{"type":"text","text":""},"encoding":{}},

{"width":143.4,"height":80.6,"encoding":{"x":{"field":"x","type":"quantitative","scale":{"domain":[0.2,1.2]},"axis":{"values":[0.4,0.6,0.8,1.0],"labels":false,"title":null}},"y":{"field":"y","type":"quantitative","scale":{"domain":[0.1,6]},"axis":{"values":[1.5,3,4.5],"format":".1f","title":"b","titleFontStyle":"italic","titleY":51}},"color":{"field":"s","type":"nominal","legend":null,"scale":{"domain":["B","C","P","O","R","D","c","b","o","p"],"range":["#52a8e4","#46e9fb","#c498e8","#ffae3c","#ff5a5f","#cc2226","#2cbccc","#2a7fb8","#ffa030","#a97fd6"]}}},"layer":[{"data":{"name":"pink"},"transform":[{"filter":"datum.p=='b'"}],"mark":{"type":"square","size":25},"encoding":{"color":{"value":"#fbe4e6"}}},{"data":{"name":"bands"},"transform":[{"filter":"datum.p=='b'"}],"mark":{"type":"area","orient":"horizontal","interpolate":"monotone"},"encoding":{"x2":{"field":"x2"},"detail":{"field":"l"}}},{"data":{"name":"vlines"},"transform":[{"filter":"datum.p=='b'"}],"mark":{"type":"line","interpolate":"cardinal","strokeWidth":1.1},"encoding":{"detail":{"field":"l"},"order":null}},{"data":{"values":[{"x":-0.529,"y":3.66,"t":"GW"}]},"mark":{"type":"text","angle":270,"fontSize":13,"fontStyle":"italic","color":"black"},"encoding":{"text":{"field":"t"},"color":{"value":"black"}}}]},
{"width":143.4,"height":80.6,"view":{"fill":"#ff5a5f"},"encoding":{"x":{"field":"x","type":"quantitative","scale":{"domain":[0.1,0.4]},"axis":{"values":[0.12,0.18,0.24,0.3,0.36],"labels":false,"title":null}},"y":{"field":"y","type":"quantitative","scale":{"domain":[0.1,6]},"axis":{"values":[1.5,3,4.5],"labels":false,"title":null}},"color":{"field":"s","type":"nominal","legend":null,"scale":{"domain":["B","C","P","O","R","D","c","b","o","p"],"range":["#52a8e4","#46e9fb","#c498e8","#ffae3c","#ff5a5f","#cc2226","#2cbccc","#2a7fb8","#ffa030","#a97fd6"]}}},"layer":[{"data":{"name":"blobs"},"transform":[{"filter":"datum.p=='mb'"}],"mark":{"type":"area","interpolate":"monotone"},"encoding":{"y2":{"field":"y2"},"detail":{"field":"l"}}},{"data":{"name":"loops"},"transform":[{"filter":"datum.p=='mb'"}],"mark":{"type":"line","interpolate":"cardinal-closed","strokeWidth":1.1},"encoding":{"detail":{"field":"l"},"order":null}}]},
{"width":143.4,"height":80.6,"encoding":{"x":{"field":"x","type":"quantitative","scale":{"domain":[0.1,6]},"axis":{"values":[1.5,3,4.5],"labels":false,"title":null}},"y":{"field":"y","type":"quantitative","stack":null,"scale":{"domain":[0,1]},"axis":null},"color":{"field":"s","type":"nominal","legend":null,"scale":{"domain":["B","C","P","O","R","D","c","b","o","p"],"range":["#52a8e4","#46e9fb","#c498e8","#ffae3c","#ff5a5f","#cc2226","#2cbccc","#2a7fb8","#ffa030","#a97fd6"]}}},"layer":[{"data":{"name":"dens"},"transform":[{"filter":"datum.p=='g'"}],"mark":{"type":"area","interpolate":"monotone"},"encoding":{"detail":{"field":"s"}}},{"data":{"name":"densl"},"transform":[{"filter":"datum.p=='g'"}],"mark":{"type":"line","interpolate":"monotone","strokeWidth":1.1},"encoding":{"detail":{"field":"l"},"order":null}}]},
{"width":143.4,"height":80.6,"view":{"stroke":null},"data":{"values":[{}]},"mark":{"type":"text","text":""},"encoding":{}},

{"width":143.4,"height":80.6,"encoding":{"x":{"field":"x","type":"quantitative","scale":{"domain":[0.2,1.2]},"axis":{"values":[0.4,0.6,0.8,1.0],"format":".1f","title":"h₀"}},"y":{"field":"y","type":"quantitative","scale":{"domain":[-2,2]},"axis":{"values":[-1.6,-0.8,0,0.8,1.6],"format":".1f","title":"α","titleFontStyle":"italic","titleY":36.5}},"color":{"field":"s","type":"nominal","legend":null,"scale":{"domain":["B","C","P","O","R","D","c","b","o","p"],"range":["#52a8e4","#46e9fb","#c498e8","#ffae3c","#ff5a5f","#cc2226","#2cbccc","#2a7fb8","#ffa030","#a97fd6"]}}},"layer":[{"data":{"name":"pink"},"transform":[{"filter":"datum.p=='a'"}],"mark":{"type":"square","size":25},"encoding":{"color":{"value":"#fbe4e6"}}},{"data":{"name":"bands"},"transform":[{"filter":"datum.p=='a'"}],"mark":{"type":"area","orient":"horizontal","interpolate":"monotone"},"encoding":{"x2":{"field":"x2"},"detail":{"field":"l"}}},{"data":{"name":"vlines"},"transform":[{"filter":"datum.p=='a'"}],"mark":{"type":"line","interpolate":"cardinal","strokeWidth":1.1},"encoding":{"detail":{"field":"l"},"order":null}}]},
{"width":143.4,"height":80.6,"view":{"fill":"#ff5a5f"},"encoding":{"x":{"field":"x","type":"quantitative","scale":{"domain":[0.1,0.4]},"axis":{"values":[0.12,0.18,0.24,0.3,0.36],"format":".2f","title":"Ωₘ"}},"y":{"field":"y","type":"quantitative","scale":{"domain":[-2,2]},"axis":{"values":[-1.6,-0.8,0,0.8,1.6],"labels":false,"title":null}},"color":{"field":"s","type":"nominal","legend":null,"scale":{"domain":["B","C","P","O","R","D","c","b","o","p"],"range":["#52a8e4","#46e9fb","#c498e8","#ffae3c","#ff5a5f","#cc2226","#2cbccc","#2a7fb8","#ffa030","#a97fd6"]}}},"layer":[{"data":{"name":"blobs"},"transform":[{"filter":"datum.p=='ma'"}],"mark":{"type":"area","interpolate":"monotone"},"encoding":{"y2":{"field":"y2"},"detail":{"field":"l"}}},{"data":{"name":"loops"},"transform":[{"filter":"datum.p=='ma'"}],"mark":{"type":"line","interpolate":"cardinal-closed","strokeWidth":1.1},"encoding":{"detail":{"field":"l"},"order":null}}]},
{"width":143.4,"height":80.6,"view":{"fill":"#ff5a5f"},"encoding":{"x":{"field":"x","type":"quantitative","scale":{"domain":[0.1,6]},"axis":{"values":[1.5,3,4.5],"format":".1f","title":"b","titleFontStyle":"italic","titleX":57.5}},"y":{"field":"y","type":"quantitative","scale":{"domain":[-2,2]},"axis":{"values":[-1.6,-0.8,0,0.8,1.6],"labels":false,"title":null}},"color":{"field":"s","type":"nominal","legend":null,"scale":{"domain":["B","C","P","O","R","D","c","b","o","p"],"range":["#52a8e4","#46e9fb","#c498e8","#ffae3c","#ff5a5f","#cc2226","#2cbccc","#2a7fb8","#ffa030","#a97fd6"]}}},"layer":[{"data":{"name":"blobs"},"transform":[{"filter":"datum.p=='ga'"}],"mark":{"type":"area","interpolate":"monotone"},"encoding":{"y2":{"field":"y2"},"detail":{"field":"l"}}},{"data":{"name":"loops"},"transform":[{"filter":"datum.p=='ga'"}],"mark":{"type":"line","interpolate":"cardinal-closed","strokeWidth":1.1},"encoding":{"detail":{"field":"l"},"order":null}},{"data":{"values":[{"x":3.35,"y":-5.2,"t":"GW"}]},"mark":{"type":"text","fontSize":13,"fontStyle":"italic"},"encoding":{"text":{"field":"t"},"color":{"value":"black"}}}]},
{"width":143.4,"height":80.6,"encoding":{"x":{"field":"x","type":"quantitative","scale":{"domain":[-2,2]},"axis":{"values":[-1.6,-0.8,0,0.8,1.6],"format":".1f","title":"α","titleFontStyle":"italic"}},"y":{"field":"y","type":"quantitative","stack":null,"scale":{"domain":[0,1]},"axis":null},"color":{"field":"s","type":"nominal","legend":null,"scale":{"domain":["B","C","P","O","R","D","c","b","o","p"],"range":["#52a8e4","#46e9fb","#c498e8","#ffae3c","#ff5a5f","#cc2226","#2cbccc","#2a7fb8","#ffa030","#a97fd6"]}}},"layer":[{"data":{"name":"dens"},"transform":[{"filter":"datum.p=='c'"}],"mark":{"type":"area","interpolate":"monotone"},"encoding":{"detail":{"field":"s"}}},{"data":{"name":"densl"},"transform":[{"filter":"datum.p=='c'"}],"mark":{"type":"line","interpolate":"monotone","strokeWidth":1.1},"encoding":{"detail":{"field":"l"},"order":null}}]}
]}
